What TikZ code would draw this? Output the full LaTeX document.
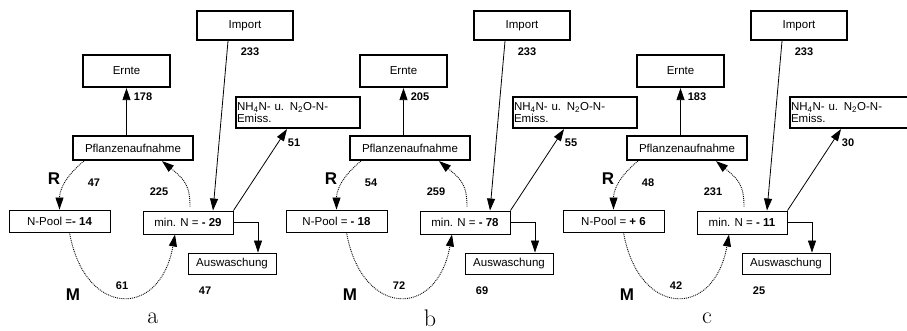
\documentclass[tikz,border=0pt]{standalone}
\usepackage{fontspec}
\setsansfont{Liberation Sans}
\usetikzlibrary{arrows.meta}

\tikzset{
  thickbox/.style={draw,line width=2.2pt,inner sep=0pt,font=\sffamily\fontsize{11.5}{12}\selectfont},
  thinbox/.style={draw,line width=0.9pt,inner sep=0pt,font=\sffamily\fontsize{11.5}{12}\selectfont},
  val/.style={font=\sffamily\bfseries\fontsize{11}{12}\selectfont},
  bigval/.style={font=\sffamily\bfseries\fontsize{17}{18}\selectfont},
  letter/.style={font=\rmfamily\fontsize{24}{26}\selectfont},
  flowline/.style={->,line width=0.8pt},
  dotline/.style={->,densely dotted,line width=0.9pt},
}

\begin{document}
\begin{tikzpicture}[x=1pt,y=-1pt,>={Triangle[length=12pt,width=8pt]}]
\useasboundingbox (0,0) rectangle (907,331);

% a
\begin{scope}
\node[thickbox,minimum width=96pt,minimum height=29pt] (impA) at (245,25.5) {Import};
\node[thickbox,minimum width=87pt,minimum height=32pt] (ernteA) at (126.5,71) {Ernte};
\node[thickbox,minimum width=120pt,minimum height=24pt] (pflA) at (133,148) {Pflanzenaufnahme};
\node[thickbox,minimum width=124pt,minimum height=31pt,text width=122pt,align=left] (nh4A) at (298,112.5) {NH\textsubscript{4}N- u. N\textsubscript{2}O-N-\\Emiss.};
\node[thinbox,minimum width=101pt,minimum height=22pt] (npoolA) at (59.5,221) {N-Pool =\textbf{- 14}};
\node[thinbox,minimum width=90pt,minimum height=23pt] (minA) at (188,222.5) {min. N = \textbf{- 29}};
\node[thinbox,minimum width=88pt,minimum height=21pt] (auswA) at (232,263.5) {Auswaschung};

\draw[flowline] ([xshift=-17pt]impA.south) -- ([xshift=25pt]minA.north);
\draw[flowline] (pflA.north -| ernteA.south) -- (ernteA.south);
\draw[flowline] (minA.north east) -- ([xshift=-11pt]nh4A.south);
\draw[flowline] (minA.east) -| ([xshift=26pt]auswA.north);
\draw[dotline] ([xshift=12pt]pflA.south west) .. controls +(-15,12) and +(0,-22) .. (npoolA.north);
\draw[dotline] ([xshift=10pt]npoolA.south) .. controls +(15,85) and +(-15,85) .. ([xshift=-13pt]minA.south);
\draw[dotline] ([xshift=2pt,yshift=4pt]minA.north) .. controls +(0,-22) and +(22,18) .. ([xshift=29pt]pflA.south);

\node[val] (impvA) at (250,52) {233};
\node[val] (ernvA) at (143,97) {178};
\node[val] (nh4vA) at (294,143) {51};
\node[bigval] (rA) at (54,179) {R};
\node[val] (rvA) at (94,183) {47};
\node[val] (upvA) at (159,192) {225};
\node[bigval] (mA) at (73,295) {M};
\node[val] (mvA) at (122,286) {61};
\node[val] (auvA) at (205,291) {47};
\node[letter] (labA) at (153,318) {a};
\end{scope}

% b
\begin{scope}[xshift=277pt]
\node[thickbox,minimum width=96pt,minimum height=29pt] (impB) at (245,25.5) {Import};
\node[thickbox,minimum width=87pt,minimum height=32pt] (ernteB) at (126.5,71) {Ernte};
\node[thickbox,minimum width=120pt,minimum height=24pt] (pflB) at (133,148) {Pflanzenaufnahme};
\node[thickbox,minimum width=124pt,minimum height=31pt,text width=122pt,align=left] (nh4B) at (298,112.5) {NH\textsubscript{4}N- u. N\textsubscript{2}O-N-\\Emiss.};
\node[thinbox,minimum width=101pt,minimum height=22pt] (npoolB) at (59.5,221) {N-Pool = \textbf{- 18}};
\node[thinbox,minimum width=90pt,minimum height=23pt] (minB) at (188,222.5) {min. N = \textbf{- 78}};
\node[thinbox,minimum width=88pt,minimum height=21pt] (auswB) at (232,263.5) {Auswaschung};

\draw[flowline] ([xshift=-17pt]impB.south) -- ([xshift=25pt]minB.north);
\draw[flowline] (pflB.north -| ernteB.south) -- (ernteB.south);
\draw[flowline] (minB.north east) -- ([xshift=-11pt]nh4B.south);
\draw[flowline] (minB.east) -| ([xshift=26pt]auswB.north);
\draw[dotline] ([xshift=12pt]pflB.south west) .. controls +(-15,12) and +(0,-22) .. (npoolB.north);
\draw[dotline] ([xshift=10pt]npoolB.south) .. controls +(15,85) and +(-15,85) .. ([xshift=-13pt]minB.south);
\draw[dotline] ([xshift=2pt,yshift=4pt]minB.north) .. controls +(0,-22) and +(22,18) .. ([xshift=29pt]pflB.south);

\node[val] (impvB) at (250,52) {233};
\node[val] (ernvB) at (143,97) {205};
\node[val] (nh4vB) at (294,143) {55};
\node[bigval] (rB) at (54,179) {R};
\node[val] (rvB) at (94,183) {54};
\node[val] (upvB) at (159,192) {259};
\node[bigval] (mB) at (73,295) {M};
\node[val] (mvB) at (122,286) {72};
\node[val] (auvB) at (205,291) {69};
\node[letter] (labB) at (153,318) {b};
\end{scope}

% c
\begin{scope}[xshift=554pt]
\node[thickbox,minimum width=96pt,minimum height=29pt] (impC) at (245,25.5) {Import};
\node[thickbox,minimum width=87pt,minimum height=32pt] (ernteC) at (126.5,71) {Ernte};
\node[thickbox,minimum width=120pt,minimum height=24pt] (pflC) at (133,148) {Pflanzenaufnahme};
\node[thickbox,minimum width=124pt,minimum height=31pt,text width=122pt,align=left] (nh4C) at (298,112.5) {NH\textsubscript{4}N- u. N\textsubscript{2}O-N-\\Emiss.};
\node[thinbox,minimum width=101pt,minimum height=22pt] (npoolC) at (59.5,221) {N-Pool = \textbf{+ 6}};
\node[thinbox,minimum width=90pt,minimum height=23pt] (minC) at (188,222.5) {min. N = \textbf{- 11}};
\node[thinbox,minimum width=88pt,minimum height=21pt] (auswC) at (232,263.5) {Auswaschung};

\draw[flowline] ([xshift=-17pt]impC.south) -- ([xshift=25pt]minC.north);
\draw[flowline] (pflC.north -| ernteC.south) -- (ernteC.south);
\draw[flowline] (minC.north east) -- ([xshift=-11pt]nh4C.south);
\draw[flowline] (minC.east) -| ([xshift=26pt]auswC.north);
\draw[dotline] ([xshift=12pt]pflC.south west) .. controls +(-15,12) and +(0,-22) .. (npoolC.north);
\draw[dotline] ([xshift=10pt]npoolC.south) .. controls +(15,85) and +(-15,85) .. ([xshift=-13pt]minC.south);
\draw[dotline] ([xshift=2pt,yshift=4pt]minC.north) .. controls +(0,-22) and +(22,18) .. ([xshift=29pt]pflC.south);

\node[val] (impvC) at (250,52) {233};
\node[val] (ernvC) at (143,97) {183};
\node[val] (nh4vC) at (294,143) {30};
\node[bigval] (rC) at (54,179) {R};
\node[val] (rvC) at (94,183) {48};
\node[val] (upvC) at (159,192) {231};
\node[bigval] (mC) at (73,295) {M};
\node[val] (mvC) at (122,286) {42};
\node[val] (auvC) at (205,291) {25};
\node[letter] (labC) at (153,318) {c};
\end{scope}
\end{tikzpicture}
\end{document}
